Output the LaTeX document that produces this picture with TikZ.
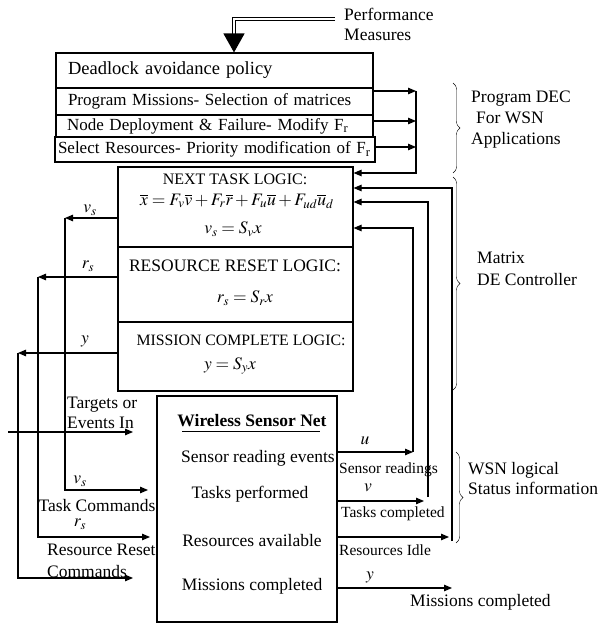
\documentclass[tikz,border=0pt]{standalone}
\usepackage{mathptmx}
\usepackage{fontspec}
\setmainfont{Liberation Serif}
\usetikzlibrary{arrows.meta,decorations.pathreplacing,calc}
\begin{document}
\begin{tikzpicture}
    [x=1pt,y=-1pt,
     every node/.style={font=\fontsize{17.5}{20}\selectfont,inner sep=1pt},
     small/.style={font=\fontsize{15.5}{17}\selectfont},
     box/.style={draw,line width=1.1pt,inner sep=0pt,font=\fontsize{17}{19}\selectfont},
     pre/.style={-{Triangle[length=8pt,width=6.5pt]},line width=1.1pt},
     brc/.style={decorate,decoration={brace,amplitude=7pt},thin}]
    \useasboundingbox (0,0) rectangle (603,623);
    % policy boxes
    \node [box,minimum height=35pt,text width=293pt,inner xsep=12pt,align=left,font=\fontsize{18.5}{20}\selectfont] (dead) at (214.5,70.5) {Deadlock avoidance policy};
    \node [box,minimum height=27pt,text width=293pt,inner xsep=12pt,align=left] (prog) at (214.5,101.5) {Program Missions- Selection of matrices};
    \node [box,minimum height=22pt,text width=295pt,inner xsep=11pt,align=left] (nodedep) at (214.5,126) {Node Deployment \& Failure- Modify F\textsubscript{r}};
    \node [box,minimum height=25pt,text width=314pt,inner xsep=3pt,align=left] (selres) at (215,149.5) {Select Resources- Priority modification of F\textsubscript{r}};
    \node [align=left,anchor=west] (perf) at (343,24) {Performance\\Measures};
    \coordinate (perfln) at (335,19);
    \draw [double,double distance=2pt,line width=1.3pt,-{Triangle[length=19pt,width=21pt]}] (perfln) -| (dead.north -| 234,0);
    % logic boxes
    \node [box,minimum width=235pt,minimum height=80pt] (next) at (235.5,207) {};
    \node [box,minimum width=235pt,minimum height=75pt] (reset) at (235.5,284.5) {};
    \node [box,minimum width=235pt,minimum height=69pt] (mission) at (235.5,356.5) {};
    \node [font=\fontsize{16}{18}\selectfont,inner sep=0pt] (nexthd) at (235,179) {NEXT TASK LOGIC:};
    \node [inner sep=0pt] (nexteq) at (237,201) {$\overline{x}=F_v\overline{v}+F_r\overline{r}+F_u\overline{u}+F_{ud}\overline{u}_d$};
    \node [inner sep=0pt] (nextvs) at (233,229) {$v_s=S_vx$};
    \node (resethd) at (235,266) {RESOURCE RESET LOGIC:};
    \node (resetrs) at (245,298) {$r_s=S_rx$};
    \node [font=\fontsize{15.8}{18}\selectfont] (mishd) at (241,340) {MISSION COMPLETE LOGIC:};
    \node (misy) at (230,366) {$y=S_yx$};
    % sensor net
    \node [box,minimum width=180pt,minimum height=226pt] (wsn) at (247,509) {};
    \node (wsntitle) at (252,421) {\bfseries Wireless Sensor Net};
    \draw [line width=0.8pt] ([xshift=6pt,yshift=-3pt]wsntitle.south west) -- ([xshift=-8pt,yshift=-3pt]wsntitle.south east);
    \node (sread) at (258,458) {Sensor reading events};
    \node (tperf) at (250,494) {Tasks performed};
    \node (resav) at (252,541) {Resources available};
    \node (misc) at (252,586) {Missions completed};
    % program loop
    \coordinate (dc1) at (416,91);
    \coordinate (dc2) at (416,121);
    \coordinate (dc3) at (416,147);
    \coordinate (dcbot) at (416,173);
    \draw [pre] (prog.east |- dc1) -- (dc1);
    \draw [pre] (nodedep.east |- dc2) -- (dc2);
    \draw [pre] (selres.east |- dc3) -- (dc3);
    \draw [pre] (dc1) |- (next.east |- dcbot);
    % status feedback
    \coordinate (ucol) at (413,452);
    \coordinate (vtip) at (424,501);
    \coordinate (vcol) at (428,497);
    \coordinate (rtip) at (449,537);
    \coordinate (rcol) at (452,541);
    \coordinate (ytip) at (452,588);
    \draw [pre] (wsn.east |- ucol) -- (ucol);
    \draw [pre] (ucol) |- (next.east |- 0,228);
    \draw [pre] (wsn.east |- vtip) -- (vtip);
    \draw [pre] (vcol) |- (next.east |- 0,202);
    \draw [pre] (wsn.east |- rtip) -- (rtip);
    \draw [pre] (rcol) |- (next.east |- 0,188);
    \draw [pre] (wsn.east |- ytip) -- (ytip);
    \node (ulab) at (365,441) {$u$};
    \node [small,anchor=west] (sread2) at (338,470) {Sensor readings};
    \node (vlab) at (368,488) {$v$};
    \node [small,anchor=west] (tcomp) at (340,514) {Tasks completed};
    \node [small,anchor=west] (ridle) at (338,550) {Resources Idle};
    \node (ylab) at (370,577) {$y$};
    \node [anchor=west] (mcomp) at (409,602) {Missions completed};
    % commands back to the net
    \coordinate (vstop) at (65,218);
    \coordinate (vsin) at (148,490);
    \coordinate (rstop) at (38,277);
    \coordinate (rsin) at (150,537);
    \coordinate (ystop) at (18,353);
    \coordinate (yin) at (133,578);
    \coordinate (tgfrom) at (8,432);
    \coordinate (tgin) at (133,432);
    \draw [pre] (next.west |- vstop) -- (vstop);
    \draw [pre] (vstop) |- (vsin);
    \draw [pre] (reset.west |- rstop) -- (rstop);
    \draw [pre] (rstop) |- (rsin);
    \draw [pre] (mission.west |- ystop) -- (ystop);
    \draw [pre] (ystop) |- (yin);
    \draw [pre] (tgfrom) -- (tgin);
    \node (vsout) at (90,210) {$v_s$};
    \node (rsout) at (88,266) {$r_s$};
    \node (yout) at (85,341) {$y$};
    \node [align=left,anchor=west] (targets) at (66,413) {Targets or\\Events In};
    \node (vsinlab) at (80,481) {$v_s$};
    \node (taskcmd) at (97,506) {Task Commands};
    \node (rsinlab) at (80,524) {$r_s$};
    \node [align=left,anchor=west,font=\fontsize{17.5}{22}\selectfont] (rescmd) at (46,561) {Resource Reset\\Commands};
    % braces
    \draw [brc] (453,83) -- (453,173);
    \draw [brc] (453,177) -- (453,390);
    \draw [brc] (456,452) -- (456,543);
    \node [align=left,anchor=west,font=\fontsize{17.5}{21}\selectfont] (decprog) at (470,120) {Program DEC\\\hspace{5pt}For WSN\\Applications};
    \node [align=left,anchor=west,font=\fontsize{17.5}{22}\selectfont] (matrixlbl) at (476,269) {Matrix\\DE Controller};
    \node [align=left,anchor=west] (wsnstat) at (467,479) {WSN logical\\Status information};
  \end{tikzpicture}
\end{document}
